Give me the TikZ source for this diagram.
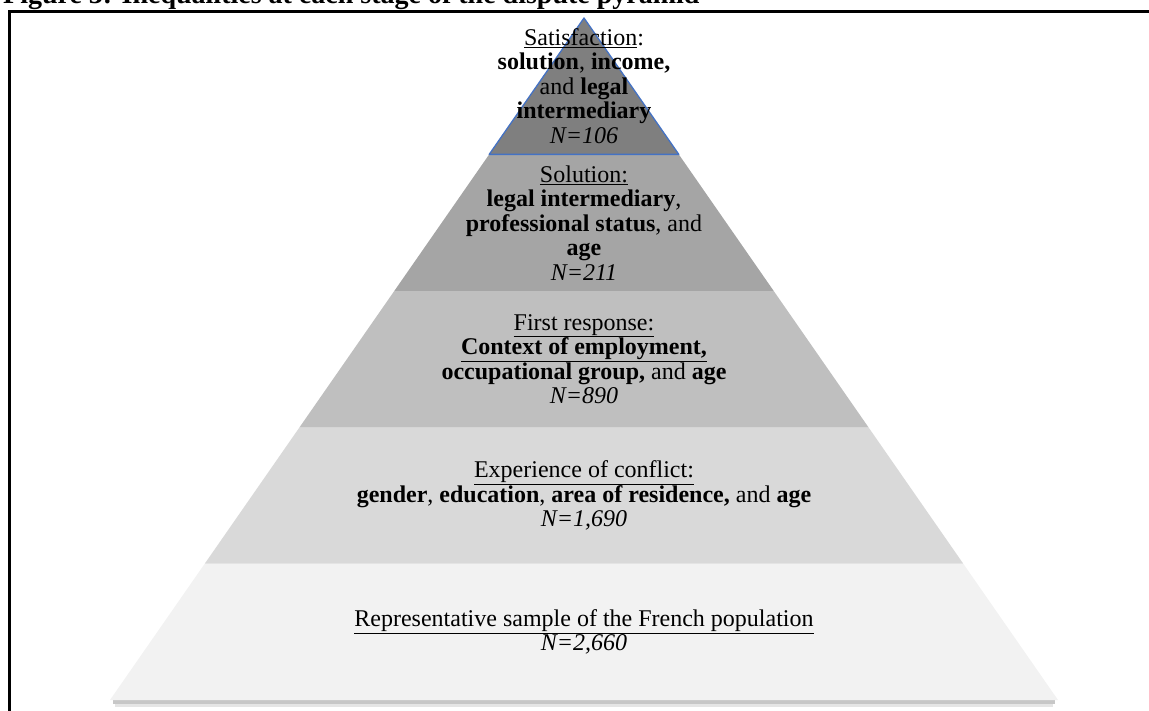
\documentclass[tikz,border=0pt]{standalone}
\usepackage{fontspec}
\setmainfont{Liberation Serif}

\definecolor{tierfive}{HTML}{7F7F7F}
\definecolor{tierfour}{HTML}{A5A5A5}
\definecolor{tierthree}{HTML}{BFBFBF}
\definecolor{tiertwo}{HTML}{D9D9D9}
\definecolor{tierone}{HTML}{F2F2F2}
\definecolor{apexline}{HTML}{4472C4}

\tikzset{
  tiertext/.style={align=center,inner sep=0pt,font=\fontsize{24}{24.5}\selectfont},
  titletext/.style={anchor=base west,inner sep=0pt,font=\fontsize{28}{30}\selectfont\bfseries}
}

\begin{document}
\begin{tikzpicture}[x=1pt,y=-1pt]
		\useasboundingbox (0,0) rectangle (1149,711);
		% title, cut off by the page edge
		\node[titletext] (title) at (3,4) {Figure 3: Inequalities at each stage of the dispute pyramid};
		\draw[line width=3pt] (9,712)--(9,11.5)--(1150,11.5);
		% shadow under the base
		\fill[black,opacity=.22] (113,700) rectangle (1055,703.5);
		\fill[black,opacity=.10] (115,703.5) rectangle (1053,707);
		% the five tiers
		\fill[tierone] (110,700)--(204.8,563.6)--(963.2,563.6)--(1058,700)--cycle;
		\fill[tiertwo] (204.8,563.6)--(299.6,427.2)--(868.4,427.2)--(963.2,563.6)--cycle;
		\fill[tierthree] (299.6,427.2)--(394.4,290.8)--(773.6,290.8)--(868.4,427.2)--cycle;
		\fill[tierfour] (394.4,290.8)--(489.2,154.4)--(678.8,154.4)--(773.6,290.8)--cycle;
		\draw[tierfive,fill=tierfive,draw=apexline,line width=1.3pt,line join=round] (489.2,154.4)--(584,18)--(678.8,154.4)--cycle;
		% labels
		\node[tiertext] (satisfaction) at (584,86) {\underline{Satisfaction}:\\\textbf{solution}, \textbf{income,}\\and \textbf{legal}\\\textbf{intermediary}\\\textit{N=106}};
		\node[tiertext] (solution) at (584,223) {\underline{Solution:}\\\textbf{legal intermediary},\\\textbf{professional status}, and\\\textbf{age}\\\textit{N=211}};
		\node[tiertext] (response) at (584,359) {\underline{First response:}\\\textbf{\underline{Context of employment,}}\\\textbf{occupational group,} and \textbf{age}\\\textit{N=890}};
		\node[tiertext] (conflict) at (584,495.5) {\underline{Experience of conflict:}\\\textbf{gender}, \textbf{education}, \textbf{area of residence,} and \textbf{age}\\\textit{N=1,690}};
		\node[tiertext] (sample) at (584,632) {\underline{Representative sample of the French population}\\\textit{N=2,660}};
	    \end{tikzpicture}
\end{document}
